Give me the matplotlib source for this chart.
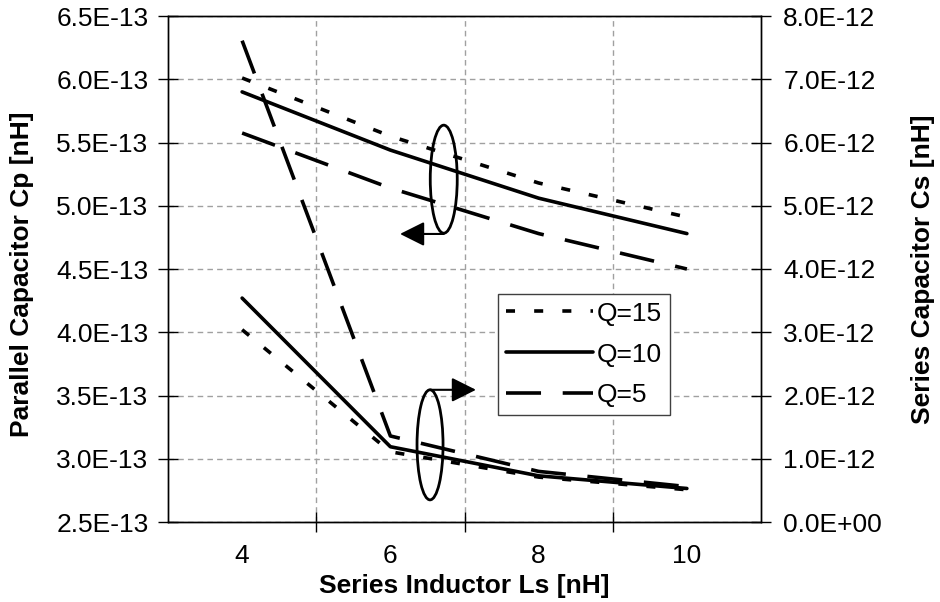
import numpy as np
import matplotlib
matplotlib.use("Agg")
import matplotlib.pyplot as plt
from matplotlib.patches import Ellipse
from matplotlib.ticker import FuncFormatter

plt.rcParams['font.family'] = ['Liberation Sans', 'DejaVu Sans']

# series inductor Ls [nH]
ls = [4, 6, 8, 10]

# parallel capacitor Cp (left axis)
cp_q15 = [6.01e-13, 5.55e-13, 5.18e-13, 4.91e-13]
cp_q10 = [5.90e-13, 5.44e-13, 5.06e-13, 4.78e-13]
cp_q5 = [5.575e-13, 5.14e-13, 4.78e-13, 4.50e-13]

# series capacitor Cs (right axis)
cs_q15 = [3.04e-12, 1.11e-12, 0.71e-12, 0.51e-12]
cs_q10 = [3.54e-12, 1.19e-12, 0.73e-12, 0.53e-12]
cs_q5 = [7.61e-12, 1.36e-12, 0.80e-12, 0.56e-12]

labels = ['Q=15', 'Q=10', 'Q=5']

fs = 19
lw = 2.6
st15 = dict(color='k', lw=lw, linestyle=(0, (2.5, 5.3)), dash_capstyle='butt')
st10 = dict(color='k', lw=lw, linestyle='-', solid_capstyle='round', solid_joinstyle='round')
st5 = dict(color='k', lw=lw, linestyle=(0, (9.7, 6.0)), dash_capstyle='butt')

fig = plt.figure(figsize=(9.4, 6.02), dpi=100)
ax = fig.add_axes([168/940, 1-522/602, 593/940, 506/602])
ax2 = ax.twinx()

h15, = ax.plot(ls, cp_q15, **st15)
h10, = ax.plot(ls, cp_q10, **st10)
h5, = ax.plot(ls, cp_q5, **st5)
ax2.plot(ls, cs_q15, **st15)
ax2.plot(ls, cs_q10, **st10)
ax2.plot(ls, cs_q5, **st5)

ax.set_xlim(3, 11)
ax.set_ylim(2.5e-13, 6.5e-13)
ax2.set_ylim(0, 8e-12)
ax.set_yticks(np.arange(2.5e-13, 6.51e-13, 0.5e-13))
ax2.set_yticks(np.arange(0, 8.01e-12, 1e-12))

fmt = FuncFormatter(lambda v, p: '%.1E' % v)
ax.yaxis.set_major_formatter(fmt)
ax2.yaxis.set_major_formatter(fmt)

# category style x axis: labels at centres, ticks between
ax.set_xticks(ls)
ax.set_xticks([5, 7, 9], minor=True)
ax.tick_params(axis='x', which='major', length=0, labelsize=fs, pad=16)
ax.tick_params(axis='x', which='minor', direction='inout', length=14, width=1)
ax.tick_params(axis='y', direction='inout', length=14, width=1, labelsize=fs, pad=7)
ax2.tick_params(axis='y', direction='inout', length=14, width=1, labelsize=fs, pad=9)

ax.grid(True, which='minor', axis='x', color='#a0a0a0', lw=1, linestyle=(0, (4, 3)))
ax.grid(True, which='major', axis='y', color='#a0a0a0', lw=1, linestyle=(0, (4, 3)))
ax.set_axisbelow(True)

for a in (ax, ax2):
    for s in a.spines.values():
        s.set_linewidth(1)
        s.set_color('k')

ax.set_xlabel('Series Inductor Ls [nH]', fontsize=fs, fontweight='bold')
ax.xaxis.set_label_coords(0.5, -0.126)
ax.xaxis.label.set_va('center')
ax.set_ylabel('Parallel Capacitor Cp [nH]', fontsize=fs, fontweight='bold')
ax.yaxis.set_label_coords(-0.246, 0.49)
ax.yaxis.label.set_va('center')
ax2.set_ylabel('Series Capacitor Cs [nH]', fontsize=fs, fontweight='bold', rotation=90)
ax2.yaxis.set_label_coords(1.273, 0.5)
ax2.yaxis.label.set_va('center')

# ellipses and arrows marking which axis each group uses
ax.add_patch(Ellipse((6.72, 5.21e-13), 0.364, 0.854e-13, fill=False, ec='k', lw=2))
ax.annotate('', xy=(6.13, 4.777e-13), xytext=(6.72, 4.777e-13),
            arrowprops=dict(arrowstyle='-|>,head_length=1.0,head_width=0.5',
                            color='k', lw=1.5, mutation_scale=15, shrinkA=0, shrinkB=0))
ax2.add_patch(Ellipse((6.535, 1.22e-12), 0.351, 1.74e-12, fill=False, ec='k', lw=2))
ax2.annotate('', xy=(7.155, 2.09e-12), xytext=(6.535, 2.09e-12),
             arrowprops=dict(arrowstyle='-|>,head_length=1.0,head_width=0.5',
                             color='k', lw=1.5, mutation_scale=15, shrinkA=0, shrinkB=0))

leg = ax2.legend([h15, h10, h5], labels, loc='upper left',
                 bbox_to_anchor=(0.556, 0.451), fontsize=fs, frameon=True,
                 fancybox=False, edgecolor='#404040', framealpha=1,
                 handlelength=3.3, handletextpad=0.15, labelspacing=0.64,
                 borderpad=0.3, borderaxespad=0)
leg.get_frame().set_linewidth(1)

fig.savefig('out.png', dpi=100)
